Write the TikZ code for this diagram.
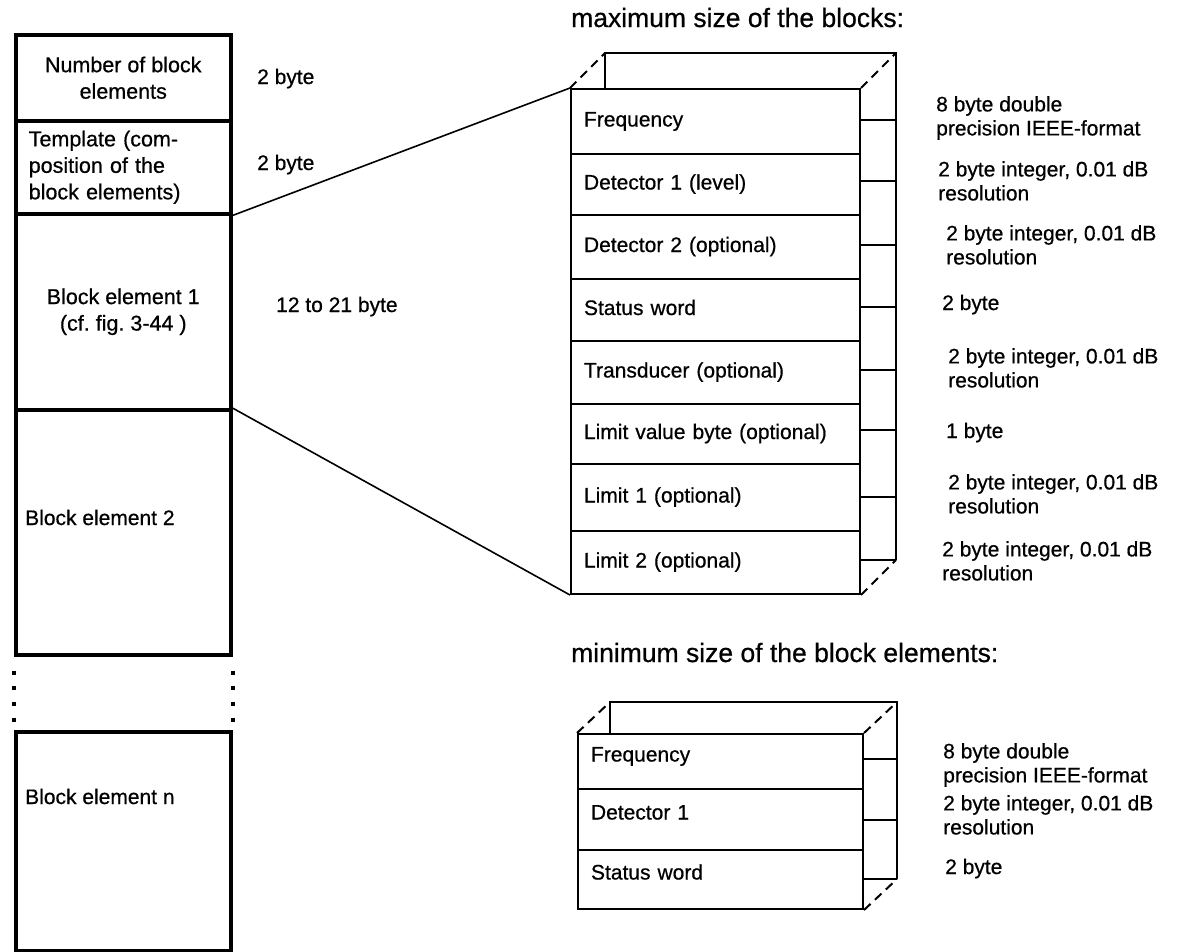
\documentclass[tikz,border=0pt]{standalone}
\usepackage{fontspec}
\setmainfont{Liberation Sans}[FakeBold=0.6]
\usepackage{tikz}
\usetikzlibrary{calc}

\begin{document}
\begin{tikzpicture}[x=1pt, y=-1pt, font=\fontsize{21}{24}\selectfont,
  cell/.style={draw, line width=3.5pt, minimum width=215pt, inner sep=0pt, anchor=north west, font=\fontsize{21.5}{26.5}\selectfont},
  field/.style={draw, line width=2pt, text width=263pt, inner xsep=13pt, inner ysep=0pt, text height=15pt, text depth=5pt, align=left, anchor=north west},
  sfield/.style={field, text width=259pt, text depth=15pt},
  note/.style={anchor=base west, inner sep=0pt},
  notes/.style={anchor=north west, inner sep=0pt, align=left},
  backedge/.style={line width=2pt, dash pattern=on 9pt off 6pt},
  gapdots/.style={line width=4pt, dash pattern=on 4pt off 11.7pt, shorten <=14pt, shorten >=8pt},
  title/.style={anchor=base west, inner sep=0pt, font=\fontsize{26.5}{30}\selectfont}]
  \useasboundingbox (0,0) rectangle (1182,951);
  % Block list
  \node[cell, minimum height=86pt, align=center] (nbe) at (14,33) {Number of block\\elements};
  \node[cell, minimum height=93pt, text width=189pt, align=left] (tmpl) at (14,119) {Template (com-\\position of the\\block elements)};
  \node[cell, minimum height=196pt, align=center] (blk1) at (14,212) {Block element 1\\(cf.\ fig.\ 3-44 )};
  \node[cell, minimum height=245pt] (blk2) at (14,408) {};
  \node[cell, minimum height=219pt] (blkn) at (14,730) {};
  \node[note] (blk2txt) at (25,525) {Block element 2};
  \node[note] (blkntxt) at (25,804) {Block element n};
  % Gap
  \draw[gapdots] (blk2.south west) -- (blkn.north west);
  \draw[gapdots] (blk2.south east) -- (blkn.north east);
  % Sizes
  \node[note] (nbesz) at (257,84) {2 byte};
  \node[note] (tmplsz) at (257,170) {2 byte};
  \node[note] (blk1sz) at (276,312) {12 to 21 byte};

  % Maximum block element
  \node[title] (maxttl) at (571,27) {maximum size of the blocks:};
  \node[field, minimum height=65pt] (freq) at (570,88) {Frequency};
  \node[field, minimum height=61pt] (det1) at (570,153) {Detector 1 (level)};
  \node[field, minimum height=64pt] (det2) at (570,214) {Detector 2 (optional)};
  \node[field, minimum height=62pt] (stat) at (570,278) {Status word};
  \node[field, minimum height=63pt] (trans) at (570,340) {Transducer (optional)};
  \node[field, minimum height=60pt] (lvb) at (570,403) {Limit value byte (optional)};
  \node[field, minimum height=67pt] (lim1) at (570,463) {Limit 1 (optional)};
  \node[field, minimum height=63pt] (lim2) at (570,530) {Limit 2 (optional)};
  % back face
  \draw[line width=2pt] ($(freq.north west)+(35,0)$) -- ($(freq.north west)+(35,-35)$) -- ($(freq.north east)+(35,-35)$) -- ($(lim2.south east)+(35,-35)$);
  \draw[backedge] (freq.north west) -- ++(35,-35);
  \draw[backedge] (freq.north east) -- ++(35,-35);
  \draw[backedge] (lim2.south east) -- ++(35,-35);
  \draw[line width=2pt] ($(freq.south east)+(0,-35)$) -- ++(35,0);
  \draw[line width=2pt] ($(det1.south east)+(0,-35)$) -- ++(35,0);
  \draw[line width=2pt] ($(det2.south east)+(0,-35)$) -- ++(35,0);
  \draw[line width=2pt] ($(stat.south east)+(0,-35)$) -- ++(35,0);
  \draw[line width=2pt] ($(trans.south east)+(0,-35)$) -- ++(35,0);
  \draw[line width=2pt] ($(lvb.south east)+(0,-35)$) -- ++(35,0);
  \draw[line width=2pt] ($(lim1.south east)+(0,-35)$) -- ++(35,0);
  \draw[line width=2pt] ($(lim2.south east)+(0,-35)$) -- ++(35,0);
  % Zoom lines
  \draw[line width=1.6pt] (tmpl.south east) -- (freq.north west);
  \draw[line width=1.6pt] (blk2.north east) -- (lim2.south west);
  % Formats
  \node[notes] (freqfmt) at (936,96) {8 byte double\\precision IEEE-format};
  \node[notes] (det1fmt) at (938,161) {2 byte integer, 0.01 dB\\resolution};
  \node[notes] (det2fmt) at (946,225) {2 byte integer, 0.01 dB\\resolution};
  \node[note] (statfmt) at (942,310) {2 byte};
  \node[notes] (transfmt) at (948,348) {2 byte integer, 0.01 dB\\resolution};
  \node[note] (lvbfmt) at (946,438) {1 byte};
  \node[notes] (lim1fmt) at (948,474) {2 byte integer, 0.01 dB\\resolution};
  \node[notes] (lim2fmt) at (942,541) {2 byte integer, 0.01 dB\\resolution};

  % Minimum block element
  \node[title] (minttl) at (571,662) {minimum size of the block elements:};
  \node[sfield, minimum height=55pt] (sfreq) at (577,733) {Frequency};
  \node[sfield, minimum height=61pt] (sdet) at (577,788) {Detector 1};
  \node[sfield, minimum height=59pt] (sstat) at (577,849) {Status word};
  % back face
  \draw[line width=2pt] ($(sfreq.north west)+(33,0)$) -- ($(sfreq.north west)+(33,-31)$) -- ($(sfreq.north east)+(33,-31)$) -- ($(sstat.south east)+(33,-31)$);
  \draw[backedge] (sfreq.north west) -- ++(33,-31);
  \draw[backedge] (sfreq.north east) -- ++(33,-31);
  \draw[backedge] (sstat.south east) -- ++(33,-31);
  \draw[line width=2pt] ($(sfreq.south east)+(0,-31)$) -- ++(33,0);
  \draw[line width=2pt] ($(sdet.south east)+(0,-31)$) -- ++(33,0);
  \draw[line width=2pt] ($(sstat.south east)+(0,-31)$) -- ++(33,0);
  % Formats
  \node[notes] (sfreqfmt) at (943,743) {8 byte double\\precision IEEE-format};
  \node[notes] (sdetfmt) at (943,795) {2 byte integer, 0.01 dB\\resolution};
  \node[note] (sstatfmt) at (945,874) {2 byte};
\end{tikzpicture}
\end{document}
